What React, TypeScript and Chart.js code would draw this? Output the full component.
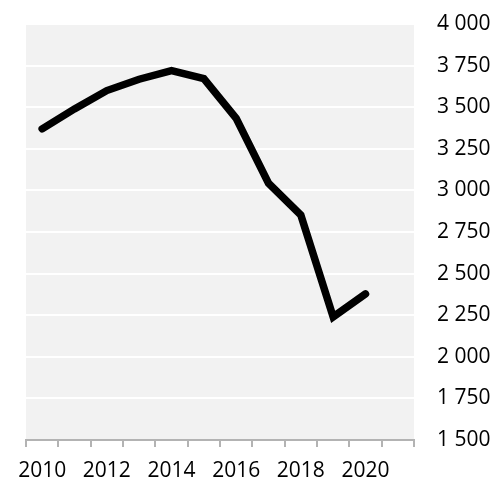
import React, { useEffect, useRef } from "react";
import { Chart, registerables } from "chart.js";

Chart.register(...registerables);

const years = ["2010", "2011", "2012", "2013", "2014", "2015", "2016", "2017", "2018", "2019", "2020", "2021"];
const values = [3370, 3490, 3600, 3668, 3720, 3672, 3433, 3043, 2852, 2240, 2378, null];
const yMin = 1500;
const yMax = 4000;
const yStep = 250;

const fmt = (v: number) => String(v).replace(/\B(?=(\d{3})+(?!\d))/g, " ");

const bgPlugin = {
  id: "plotBg",
  beforeDraw(chart: any) {
    const { ctx, chartArea } = chart;
    ctx.save();
    ctx.fillStyle = "#f2f2f2";
    ctx.fillRect(chartArea.left, chartArea.top, chartArea.right - chartArea.left, chartArea.bottom - chartArea.top);
    ctx.restore();
  },
};

export default function App() {
  const ref = useRef<HTMLCanvasElement>(null);
  useEffect(() => {
    document.body.style.margin = "0";
    const chart = new Chart(ref.current!, {
      type: "line",
      data: {
        labels: years,
        datasets: [
          {
            data: values,
            borderColor: "#000",
            borderWidth: 7.5,
            pointRadius: 0,
            tension: 0,
            borderCapStyle: "round",
            borderJoinStyle: "miter",
            spanGaps: false,
          },
        ],
      },
      options: {
        animation: false,
        responsive: false,
        maintainAspectRatio: false,
        layout: { padding: { left: 26, top: 24, right: 0, bottom: 0 } },
        plugins: { legend: { display: false }, tooltip: { enabled: false } },
        scales: {
          x: {
            type: "category",
            offset: true,
            grid: {
              offset: true,
              drawOnChartArea: false,
              drawTicks: true,
              tickLength: 7,
              color: "#b3b3b3",
              lineWidth: 2,
            },
            border: { display: true, color: "#b3b3b3", width: 2 },
            ticks: {
              autoSkip: false,
              maxRotation: 0,
              color: "#000",
              padding: 11,
              font: { family: "'Open Sans'", size: 21 },
              callback: (_v: any, i: number) => (i % 2 === 0 ? years[i] : ""),
            },
            afterFit: (s: any) => {
              s.height = 42;
              s.paddingLeft = 0;
              s.paddingRight = 0;
            },
          },
          y: {
            position: "right",
            min: yMin,
            max: yMax,
            grid: { color: "#ffffff", lineWidth: 2, drawTicks: false },
            border: { display: false },
            ticks: {
              stepSize: yStep,
              color: "#000",
              padding: 23,
              font: { family: "'Open Sans'", size: 21 },
              callback: (v: any) => fmt(Number(v)),
            },
            afterFit: (s: any) => {
              s.width = 84;
              s.paddingTop = 0;
              s.paddingBottom = 0;
            },
          },
        },
      },
      plugins: [bgPlugin],
    });
    return () => chart.destroy();
  }, []);
  return (
    <div style={{ width: 498, height: 482 }}>
      <canvas ref={ref} width={498} height={482} style={{ display: "block" }} />
    </div>
  );
}
